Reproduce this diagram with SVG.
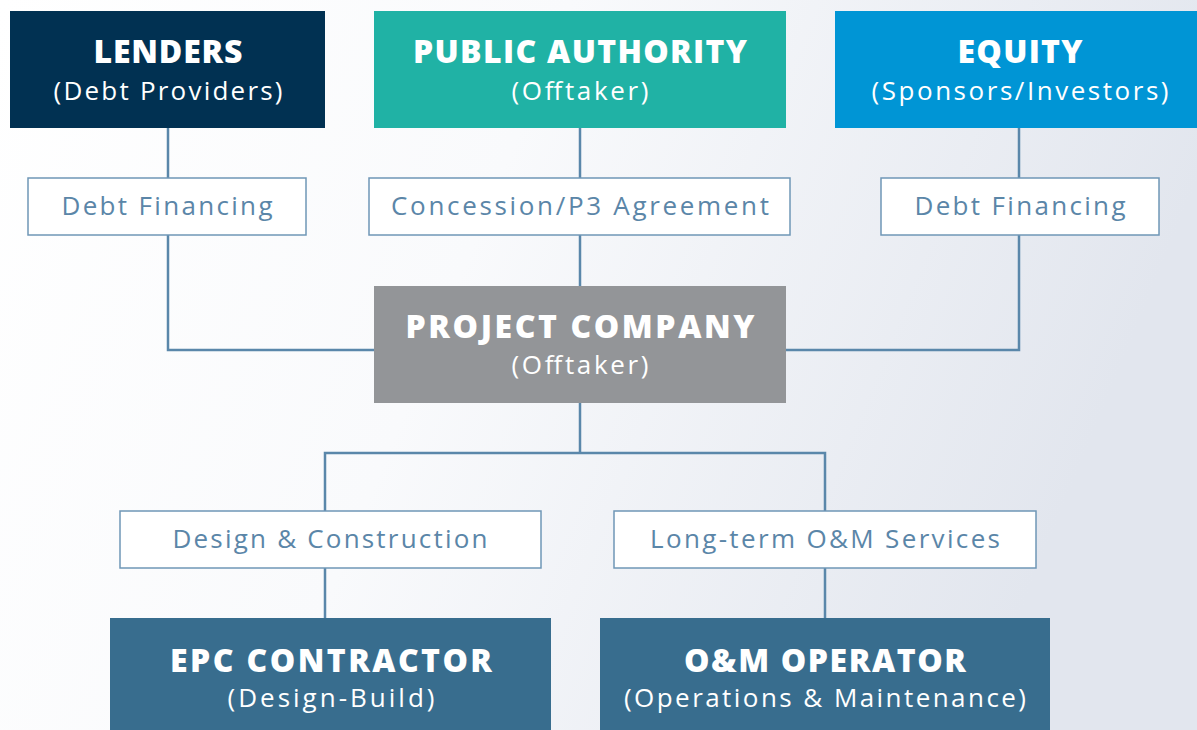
<svg xmlns="http://www.w3.org/2000/svg" width="1197" height="730" viewBox="0 0 1197 730">
  <defs>
    <linearGradient id="bg" x1="0" y1="0" x2="1" y2="0.25">
      <stop offset="0" stop-color="#ffffff"/>
      <stop offset="0.45" stop-color="#f9fafc"/>
      <stop offset="1" stop-color="#e2e6ee"/>
    </linearGradient>
  </defs>
  <style>
    .title { font-family: "Open Sans", "Noto Sans", sans-serif; font-weight: 800; font-size: 32px; fill: #ffffff; text-anchor: middle; }
    .sub { font-family: "Open Sans", "Noto Sans", sans-serif; font-weight: 500; font-size: 26px; fill: #ffffff; text-anchor: middle; }
    .lbl-box { fill: #ffffff; stroke: #6f97b6; stroke-width: 1.5; }
    .lbl { font-family: "Open Sans", "Noto Sans", sans-serif; font-weight: 500; font-size: 26px; fill: #5b86a8; text-anchor: middle; }
    .wire { fill: none; stroke: #5a87aa; stroke-width: 2.5; }
  </style>

  <rect x="0" y="0" width="1197" height="730" fill="url(#bg)"/>

  <!-- connectors -->
  <g id="connectors">
    <path class="wire" d="M168 128 V350 H374"/>
    <path class="wire" d="M580 128 V286"/>
    <path class="wire" d="M1019 128 V350 H786"/>
    <path class="wire" d="M580 403 V453"/>
    <path class="wire" d="M325 618 V453 H825 V618"/>
  </g>

  <!-- top row -->
  <g id="lenders">
    <rect x="10" y="11" width="315" height="117" fill="#013152"/>
    <text class="title" x="168" y="63" textLength="149">LENDERS</text>
    <text class="sub" x="168" y="100" textLength="229">(Debt Providers)</text>
  </g>
  <g id="public-authority">
    <rect x="374" y="11" width="412" height="117" fill="#20b2a5"/>
    <text class="title" x="580" y="63" textLength="334">PUBLIC AUTHORITY</text>
    <text class="sub" x="580" y="100" textLength="137">(Offtaker)</text>
  </g>
  <g id="equity">
    <rect x="835" y="11" width="362" height="117" fill="#0095d5"/>
    <text class="title" x="1020" y="63" textLength="125">EQUITY</text>
    <text class="sub" x="1020" y="100" textLength="297">(Sponsors/Investors)</text>
  </g>

  <!-- agreement labels, upper -->
  <g id="label-debt-left">
    <rect class="lbl-box" x="28" y="178" width="278" height="57"/>
    <text class="lbl" x="167" y="215" textLength="211">Debt Financing</text>
  </g>
  <g id="label-concession">
    <rect class="lbl-box" x="369" y="178" width="421" height="57"/>
    <text class="lbl" x="580" y="215" textLength="378">Concession/P3 Agreement</text>
  </g>
  <g id="label-debt-right">
    <rect class="lbl-box" x="881" y="178" width="278" height="57"/>
    <text class="lbl" x="1020" y="215" textLength="211">Debt Financing</text>
  </g>

  <!-- project company -->
  <g id="project-company">
    <rect x="374" y="286" width="412" height="117" fill="#939598"/>
    <text class="title" x="580" y="338" textLength="349">PROJECT COMPANY</text>
    <text class="sub" x="580" y="374" textLength="137">(Offtaker)</text>
  </g>

  <!-- agreement labels, lower -->
  <g id="label-design">
    <rect class="lbl-box" x="120" y="511" width="421" height="57"/>
    <text class="lbl" x="330" y="548" textLength="315">Design &amp; Construction</text>
  </g>
  <g id="label-om">
    <rect class="lbl-box" x="614" y="511" width="422" height="57"/>
    <text class="lbl" x="825" y="548" textLength="350">Long-term O&amp;M Services</text>
  </g>

  <!-- bottom row -->
  <g id="epc-contractor">
    <rect x="110" y="618" width="441" height="120" fill="#386d8e"/>
    <text class="title" x="331" y="672" textLength="322">EPC CONTRACTOR</text>
    <text class="sub" x="331" y="707" textLength="207">(Design-Build)</text>
  </g>
  <g id="om-operator">
    <rect x="600" y="618" width="450" height="120" fill="#386d8e"/>
    <text class="title" x="825" y="672" textLength="282">O&amp;M OPERATOR</text>
    <text class="sub" x="825" y="707" textLength="402">(Operations &amp; Maintenance)</text>
  </g>
</svg>
